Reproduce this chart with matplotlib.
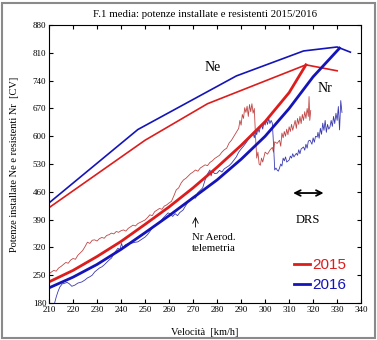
import matplotlib
matplotlib.use("Agg")
import matplotlib.pyplot as plt
from matplotlib.patches import Rectangle

# potenza installata Ne
ne15_v = [210, 250, 276, 317, 330]
ne15_p = [420, 590, 682, 780, 765]
ne16_v = [210, 247, 288, 316, 330, 335.5]
ne16_p = [432, 617, 752, 815, 825, 812]

# potenza resistente Nr (modello)
nr15_v = [210, 220, 230, 240, 250, 260, 270, 280, 290, 300, 310, 317]
nr15_p = [233, 262, 297, 335, 378, 422, 470, 522, 577, 637, 710, 780]
nr16_v = [210, 220, 230, 240, 250, 260, 270, 280, 290, 300, 310, 320, 331]
nr16_p = [218, 245, 277, 315, 357, 400, 445, 490, 542, 600, 670, 750, 822]

# Nr aerodinamica da telemetria
tel15_v = [210, 211, 212, 213, 214, 215, 216, 217, 218, 219, 220, 221, 222, 223, 224, 225,
           226, 227, 228, 229, 230, 231, 232, 233, 234, 235, 236, 237, 238, 239, 240, 241,
           242, 243, 244, 245, 246, 247, 248, 249, 250, 251, 252, 253, 254, 255, 256, 257,
           258, 259, 260, 261, 262, 263, 264, 265, 266, 267, 268, 269, 270, 271, 272, 273,
           274, 275, 276, 277, 278, 279, 280, 281, 282, 283, 284, 285, 286, 287, 288, 289,
           289.5, 290, 290.5, 291, 291.5, 292, 292.5, 293, 293.5, 294, 294.5, 295, 295.5, 296,
           296.5, 297, 297.5, 298, 298.5, 299, 300, 301, 302, 303, 303.5, 304, 305, 306, 306.5,
           307, 307.5, 308, 308.5, 309, 309.5, 310, 310.5, 311, 311.5, 312, 312.5, 313, 313.5,
           314, 314.5, 315, 315.5, 316, 316.5, 317, 317.5, 318, 318.3, 318.6, 319]
tel15_p = [253, 258, 262, 260, 268, 272, 277, 282, 280, 288, 292, 290, 300, 306, 312, 322,
           333, 330, 338, 339, 336, 342, 345, 343, 350, 352, 356, 354, 360, 358, 362, 364,
           361, 368, 372, 376, 374, 380, 383, 386, 389, 395, 402, 400, 410, 414, 418, 416,
           424, 427, 432, 436, 450, 465, 470, 482, 490, 494, 500, 506, 510, 515, 512, 520,
           524, 528, 526, 534, 538, 544, 548, 552, 560, 566, 570, 583, 590, 600, 610, 620,
           640, 628, 655, 645, 672, 660, 676, 650, 680, 662, 682, 658, 670, 600,
           545, 560, 530, 527, 545, 535, 560, 555, 565, 572, 560, 586, 582, 590, 575,
           608, 596, 612, 600, 618, 604, 624, 612, 630, 615, 628, 640, 620, 645,
           630, 650, 632, 655, 640, 662, 645, 670, 650, 700, 640, 665]

tel16_v = [212, 213, 213.7, 214.5, 215.5, 216.7, 217.5, 218.5, 219.5, 220.8, 222, 223.7, 225,
           226, 227, 228, 229, 230, 231, 232, 233, 234, 235, 236, 237, 238, 238.7, 239.5,
           240.2, 240.8, 241.7, 243, 244.6, 246, 247, 248, 249, 250, 251, 252, 253, 254, 255.4,
           256.5, 257.5, 258.5, 259.6, 260.5, 261.5, 262.5, 263.5, 264.5, 265.8, 267, 268, 269,
           270, 271, 272, 273, 274, 275, 276, 277, 277.5, 278, 279, 280, 281, 282, 283, 284,
           285, 286, 287, 288, 289, 290, 291, 292, 293, 294, 295, 295.5, 296, 296.5, 297,
           297.5, 298, 298.5, 299, 299.5, 300, 300.5, 301, 301.5, 302, 302.5, 303, 303.5, 304,
           304.5, 305, 305.5, 306, 306.5, 307, 307.5, 308, 308.5, 309, 310, 310.5, 311, 311.5,
           312, 313, 313.5, 314, 314.5, 315, 316, 316.5, 317, 317.5, 318, 318.7, 319.5, 320,
           320.5, 321, 321.7, 322, 322.5, 323, 323.5, 324, 324.5, 325, 325.5, 326, 326.5, 327,
           327.5, 328, 328.5, 329, 329.5, 330, 330.5, 331, 331.5, 332]
tel16_p = [172, 195, 208, 220, 228, 230, 232, 228, 222, 225, 230, 233, 238,
           243, 246, 250, 258, 263, 268, 271, 276, 282, 288, 293, 304, 312, 318, 314,
           330, 318, 326, 330, 331, 333, 334, 338, 342, 346, 352, 360, 369, 374, 381,
           386, 394, 400, 407, 404, 398, 405, 400, 408, 414, 426, 436, 442,
           447, 444, 458, 464, 470, 490, 505, 515, 500, 512, 506, 507, 514, 510, 518, 522,
           526, 532, 540, 548, 560, 568, 575, 583, 592, 600, 608, 596, 615, 604, 620,
           610, 623, 630, 618, 635, 628, 641, 630, 645, 632, 640, 633, 580, 515,
           520, 515, 512, 520, 530, 525, 545, 538, 548, 535, 540, 550, 545, 556,
           548, 557, 552, 566, 556, 568, 573, 565, 580, 570, 588, 590, 580, 596,
           585, 600, 598, 610, 595, 620, 605, 633, 615, 640, 610, 630, 618, 623,
           640, 625, 650, 632, 658, 640, 675, 616, 690, 660]

RED = "#dd1c1c"
BLUE = "#1414b8"

plt.rcParams["font.family"] = ["Liberation Serif", "DejaVu Serif"]

fig = plt.figure(figsize=(3.77, 3.40), dpi=100)
fig.patches.append(Rectangle((0.006, 0.006), 0.988, 0.986, transform=fig.transFigure,
                             fill=False, edgecolor="#8a8a8a", linewidth=1.5))
ax = fig.add_axes([0.130, 0.109, 0.828, 0.817])

ax.plot(tel15_v, tel15_p, color="#c04545", linewidth=0.6)
ax.plot(tel16_v, tel16_p, color="#3a3ab0", linewidth=0.6)
ax.plot(ne15_v, ne15_p, color=RED, linewidth=1.2)
ax.plot(ne16_v, ne16_p, color=BLUE, linewidth=1.2)
l15, = ax.plot(nr15_v, nr15_p, color=RED, linewidth=2.0)
l16, = ax.plot(nr16_v, nr16_p, color=BLUE, linewidth=2.0)

ax.set_xlim(210, 340)
ax.set_ylim(180, 880)
ax.set_xticks(range(210, 341, 10))
ax.set_yticks(range(180, 881, 70))
ax.tick_params(direction="in", top=True, right=True, labelsize=6.5, length=3, pad=2)

ax.set_title("F.1 media: potenze installate e resistenti 2015/2016", fontsize=7.8, pad=6)
ax.set_xlabel("Velocità  [km/h]", fontsize=7.5, labelpad=10)
ax.set_ylabel("Potenze installate Ne e resistenti Nr  [CV]", fontsize=7.5, labelpad=10)

ax.text(278, 774, "Ne", fontsize=10, ha="center", va="center")
ax.text(325, 721, "Nr", fontsize=10, ha="center", va="center")
ax.annotate("", xy=(310.5, 457), xytext=(325.5, 457),
            arrowprops=dict(arrowstyle="<->", color="black", lw=1.3))
ax.text(318, 390, "DRS", fontsize=9, ha="center", va="center")
ax.annotate("", xy=(271, 404), xytext=(271, 364),
            arrowprops=dict(arrowstyle="->", color="black", lw=0.6))
ax.text(269.5, 346, "Nr Aerod.", fontsize=7.8, ha="left", va="center")
ax.text(269.5, 316, "telemetria", fontsize=7.8, ha="left", va="center")

leg = ax.legend([l15, l16], ["2015", "2016"], loc="lower left", bbox_to_anchor=(0.742, -0.01),
                frameon=False, handlelength=1.0, handletextpad=0.2, labelspacing=0.4,
                prop={"family": "Liberation Sans", "size": 11})
for txt, col in zip(leg.get_texts(), [RED, BLUE]):
    txt.set_color(col)

fig.savefig("out.png", dpi=100)
